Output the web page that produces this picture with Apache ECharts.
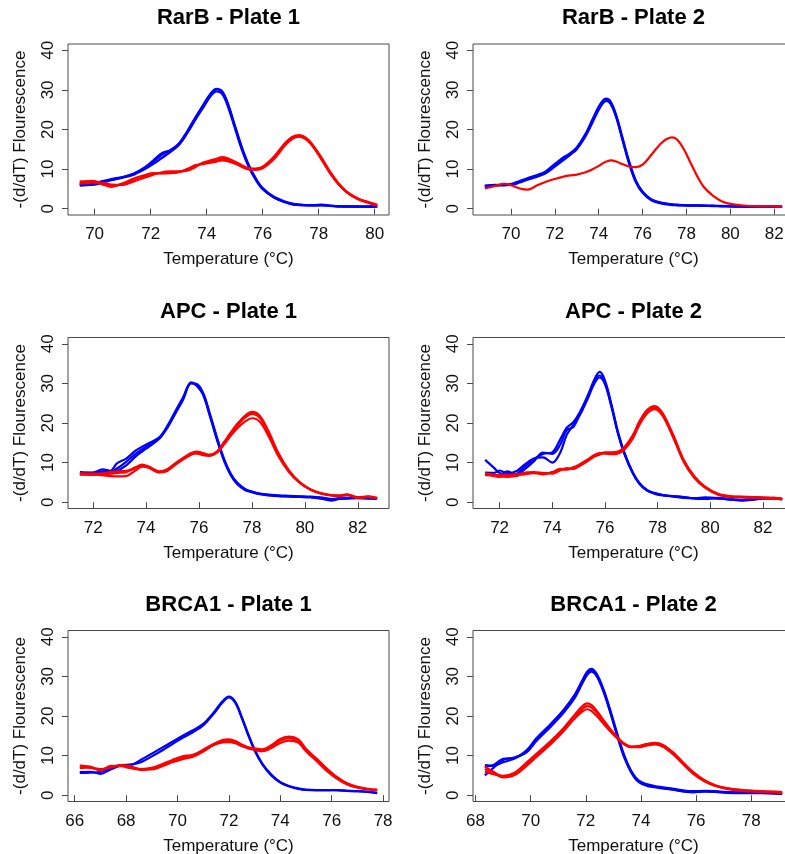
<!DOCTYPE html>
<html>
<head>
<meta charset="utf-8">
<script src="https://cdn.jsdelivr.net/npm/echarts@6/dist/echarts.min.js"></script>
<style>
  html, body { margin: 0; padding: 0; background: #ffffff; }
  #chart { width: 785px; height: 854px; }
</style>
</head>
<body>
<div id="chart"></div>
<script>
// Melt-curve derivative data, -(d/dT) fluorescence vs temperature, per assay and plate.
// Blue = one product, red = the other; each inner list is one replicate.

const yTicks = [0, 10, 20, 30, 40];
const rarbP1Ticks = [70, 72, 74, 76, 78, 80];
const rarbP2Ticks = [70, 72, 74, 76, 78, 80, 82];
const apcTicks = [72, 74, 76, 78, 80, 82];
const brcaP1Ticks = [66, 68, 70, 72, 74, 76, 78];
const brcaP2Ticks = [68, 70, 72, 74, 76, 78];

// RarB - Plate 1
const rarb1Temp = [69.47, 69.9, 70.25, 70.6, 71.0, 71.4, 71.8, 72.1, 72.4, 72.7, 73.0, 73.3, 73.6, 73.9, 74.15, 74.35, 74.55, 74.75, 75.0, 75.25, 75.5, 75.75, 76.0, 76.4, 76.8, 77.05, 77.3, 77.55, 77.8, 78.1, 78.4, 78.7, 79.0, 79.4, 79.8, 80.09];
const rarb1Blue = [
  [6.0, 6.2, 6.8, 7.3, 7.9, 8.8, 10.3, 11.8, 13.6, 14.7, 16.2, 19.2, 22.8, 26.2, 28.9, 30.1, 29.4, 26.4, 20.9, 15.4, 10.9, 7.5, 5.1, 2.9, 1.7, 1.2, 1.0, 0.9, 0.8, 0.9, 0.7, 0.6, 0.6, 0.5, 0.5, 0.6],
  [6.4, 6.0, 6.5, 7.2, 7.8, 8.6, 10.0, 11.3, 12.8, 14.3, 16.0, 19.0, 22.5, 25.8, 28.5, 29.6, 29.0, 26.0, 20.5, 15.0, 10.6, 7.3, 4.9, 2.8, 1.6, 1.1, 0.9, 0.8, 0.8, 0.8, 0.7, 0.6, 0.5, 0.5, 0.5, 0.6],
  [5.8, 6.1, 6.9, 7.5, 8.0, 8.9, 10.5, 12.2, 14.0, 14.8, 16.4, 19.5, 23.1, 26.5, 29.2, 30.3, 29.7, 26.8, 21.2, 15.7, 11.1, 7.7, 5.2, 3.0, 1.8, 1.3, 1.0, 0.9, 0.9, 1.0, 0.8, 0.6, 0.6, 0.6, 0.5, 0.6]
];
const rarb1Red = [
  [6.6, 7.0, 6.4, 5.7, 6.2, 7.4, 8.3, 8.8, 9.0, 9.1, 9.3, 9.8, 10.8, 11.5, 11.8, 12.2, 12.6, 12.3, 11.6, 10.8, 10.1, 10.0, 10.4, 12.8, 16.3, 17.8, 18.4, 17.7, 15.8, 12.6, 9.2, 6.3, 4.2, 2.5, 1.5, 0.9],
  [6.3, 6.6, 6.6, 6.1, 6.0, 6.9, 7.9, 8.6, 9.2, 9.4, 9.4, 9.6, 10.5, 11.7, 12.2, 12.6, 13.0, 12.7, 11.9, 11.0, 10.2, 10.1, 10.6, 13.1, 16.6, 18.1, 18.6, 17.9, 16.0, 12.9, 9.4, 6.5, 4.3, 2.6, 1.6, 1.0],
  [6.9, 6.8, 6.2, 5.5, 6.4, 7.6, 8.5, 9.0, 8.9, 9.0, 9.2, 10.0, 11.0, 11.3, 11.6, 11.9, 12.2, 12.0, 11.4, 10.6, 9.9, 9.8, 10.2, 12.5, 16.0, 17.6, 18.2, 17.5, 15.6, 12.4, 9.0, 6.2, 4.1, 2.4, 1.4, 0.8]
];

// RarB - Plate 2
const rarb2Temp = [68.81, 69.3, 69.7, 70.0, 70.4, 70.75, 71.2, 71.6, 72.0, 72.4, 72.7, 73.0, 73.4, 73.7, 74.0, 74.2, 74.35, 74.55, 74.8, 75.1, 75.4, 75.7, 76.0, 76.4, 76.8, 77.1, 77.35, 77.6, 77.9, 78.2, 78.5, 78.8, 79.2, 79.6, 80.0, 80.6, 81.2, 81.8, 82.36];
const rarb2Blue = [
  [5.7, 5.9, 6.0, 6.1, 6.8, 7.5, 8.3, 9.3, 11.0, 12.7, 13.8, 15.2, 18.6, 22.0, 25.4, 27.0, 27.5, 26.7, 23.3, 17.3, 11.4, 6.8, 4.2, 2.2, 1.5, 1.2, 1.0, 0.9, 0.85, 0.8, 0.8, 0.75, 0.7, 0.65, 0.6, 0.55, 0.5, 0.5, 0.5],
  [5.5, 5.8, 6.1, 6.0, 6.6, 7.3, 8.1, 9.0, 10.6, 12.3, 13.6, 15.0, 18.3, 21.6, 25.0, 26.7, 27.2, 26.4, 23.0, 17.0, 11.1, 6.6, 4.0, 2.1, 1.4, 1.1, 0.9, 0.85, 0.8, 0.75, 0.75, 0.7, 0.65, 0.6, 0.55, 0.5, 0.5, 0.45, 0.45],
  [5.8, 6.0, 5.9, 6.2, 7.0, 7.7, 8.5, 9.5, 11.3, 13.0, 14.0, 15.5, 18.9, 22.4, 25.8, 27.4, 27.8, 27.0, 23.6, 17.6, 11.7, 7.0, 4.3, 2.3, 1.6, 1.3, 1.1, 1.0, 0.9, 0.85, 0.85, 0.8, 0.75, 0.7, 0.65, 0.6, 0.55, 0.55, 0.5]
];
const rarb2Red = [
  [5.1, 5.8, 6.3, 5.9, 5.1, 4.8, 5.9, 6.8, 7.5, 8.1, 8.4, 8.6, 9.2, 9.9, 10.8, 11.5, 11.9, 12.2, 11.9, 11.2, 10.6, 10.5, 11.1, 13.6, 16.3, 17.6, 18.0, 17.3, 14.8, 11.4, 8.1, 5.4, 3.3, 1.9, 1.2, 0.8, 0.6, 0.55, 0.5]
];

// APC - Plate 1
const apc1Temp = [71.5, 72.0, 72.35, 72.65, 72.9, 73.25, 73.6, 73.85, 74.1, 74.5, 74.8, 75.1, 75.4, 75.7, 75.9, 76.15, 76.4, 76.7, 76.95, 77.2, 77.45, 77.75, 78.0, 78.3, 78.65, 79.0, 79.4, 79.8, 80.2, 80.6, 81.0, 81.3, 81.6, 82.0, 82.4, 82.73];
const apc1Blue = [
  [7.3, 7.4, 7.8, 7.7, 8.5, 10.2, 12.2, 13.3, 14.5, 16.2, 19.0, 22.6, 26.2, 30.3, 29.6, 27.4, 22.3, 15.6, 10.6, 7.0, 4.7, 3.2, 2.6, 2.1, 1.8, 1.6, 1.5, 1.4, 1.3, 1.0, 0.6, 0.9, 1.0, 1.1, 1.0, 0.9],
  [7.6, 7.5, 8.3, 7.9, 9.8, 11.0, 13.0, 14.0, 14.9, 16.4, 19.2, 22.9, 26.5, 30.1, 29.5, 27.2, 22.0, 15.3, 10.4, 6.8, 4.5, 3.0, 2.5, 2.0, 1.7, 1.5, 1.4, 1.3, 1.2, 0.9, 0.4, 0.8, 0.9, 1.0, 0.9, 0.8],
  [7.0, 7.2, 7.5, 7.6, 7.9, 9.3, 11.5, 12.8, 14.0, 16.0, 18.7, 22.3, 25.9, 30.0, 29.9, 27.7, 22.6, 15.9, 10.9, 7.2, 4.9, 3.3, 2.7, 2.2, 1.9, 1.7, 1.6, 1.5, 1.4, 1.2, 0.8, 1.0, 1.1, 1.2, 1.1, 1.0]
];
const apc1Red = [
  [7.0, 6.9, 7.0, 7.2, 7.4, 7.6, 8.6, 9.3, 8.8, 7.6, 8.1, 9.6, 10.9, 12.1, 12.4, 12.0, 11.8, 12.6, 14.6, 16.8, 18.7, 20.4, 21.2, 20.3, 16.4, 11.6, 7.6, 4.9, 3.2, 2.2, 1.7, 1.6, 1.9, 1.1, 1.4, 1.0],
  [7.3, 7.2, 7.3, 7.6, 7.8, 7.9, 8.8, 9.5, 9.0, 7.8, 8.3, 9.8, 11.2, 12.4, 12.8, 12.4, 12.0, 12.9, 15.2, 17.6, 19.8, 21.9, 22.8, 21.8, 17.6, 12.4, 8.0, 5.1, 3.3, 2.3, 1.8, 1.7, 2.0, 1.2, 1.5, 1.1],
  [7.2, 7.0, 6.8, 6.6, 6.5, 6.6, 8.0, 9.0, 8.7, 7.5, 7.9, 9.4, 10.8, 12.0, 12.3, 11.9, 11.7, 12.8, 15.0, 17.3, 19.4, 21.4, 22.3, 21.3, 17.2, 12.1, 7.8, 5.0, 3.2, 2.2, 1.7, 1.5, 1.8, 1.0, 1.3, 0.9]
];

// APC - Plate 2
const apc2Temp = [71.45, 71.8, 72.0, 72.3, 72.65, 72.9, 73.3, 73.65, 74.0, 74.3, 74.55, 74.8, 75.05, 75.35, 75.6, 75.8, 76.0, 76.25, 76.5, 76.75, 77.05, 77.3, 77.6, 77.9, 78.2, 78.6, 79.0, 79.4, 79.8, 80.3, 80.8, 81.2, 81.6, 82.0, 82.4, 82.73];
const apc2Blue = [
  [10.7, 8.6, 7.4, 6.9, 7.2, 8.6, 10.8, 12.2, 12.6, 15.8, 18.8, 20.2, 22.8, 27.0, 31.0, 32.9, 30.8, 24.6, 17.6, 12.3, 7.6, 4.9, 3.0, 2.3, 1.8, 1.4, 1.1, 1.0, 1.2, 1.0, 0.6, 0.4, 0.7, 1.0, 0.9, 0.8],
  [7.5, 7.4, 8.0, 7.3, 7.9, 9.2, 11.0, 11.3, 10.0, 12.5, 17.0, 19.5, 22.0, 26.2, 30.0, 31.5, 29.8, 24.0, 17.2, 12.0, 7.4, 4.7, 2.9, 2.1, 1.7, 1.5, 1.3, 0.9, 0.8, 1.1, 0.8, 0.5, 0.6, 0.9, 1.0, 0.7],
  [7.0, 6.8, 6.9, 7.8, 6.8, 8.0, 10.3, 12.5, 12.2, 14.5, 18.2, 19.0, 22.3, 26.5, 30.6, 32.0, 30.3, 24.3, 17.4, 12.1, 7.5, 4.8, 3.0, 2.2, 1.8, 1.5, 1.2, 1.0, 1.0, 0.9, 0.7, 0.6, 0.8, 1.0, 1.1, 0.8]
];
const apc2Red = [
  [7.0, 6.6, 6.4, 6.6, 6.8, 7.1, 7.3, 7.2, 7.5, 8.2, 8.4, 8.6, 9.4, 10.6, 11.7, 12.2, 12.4, 12.3, 12.5, 13.6, 16.3, 19.8, 22.8, 23.9, 22.0, 16.5, 10.3, 6.3, 3.8, 2.0, 1.4, 1.3, 1.2, 1.1, 1.0, 0.8],
  [7.3, 6.9, 6.7, 6.4, 6.6, 7.4, 7.6, 7.4, 7.2, 8.0, 8.6, 8.4, 9.2, 10.4, 11.5, 12.0, 12.6, 12.6, 12.8, 14.0, 16.8, 20.3, 23.3, 24.3, 22.4, 16.9, 10.6, 6.5, 3.9, 2.1, 1.5, 1.4, 1.3, 1.2, 1.1, 0.9],
  [6.8, 6.8, 6.9, 6.9, 7.0, 7.0, 7.5, 7.0, 7.6, 8.4, 8.2, 8.8, 9.6, 10.8, 11.9, 12.4, 12.3, 12.1, 12.3, 13.4, 16.0, 19.4, 22.4, 23.5, 21.7, 16.2, 10.1, 6.1, 3.7, 1.9, 1.3, 1.2, 1.1, 1.0, 0.9, 0.7]
];

// BRCA1 - Plate 1
const brca1Temp = [66.2, 66.6, 67.0, 67.4, 67.8, 68.2, 68.6, 69.0, 69.4, 69.8, 70.2, 70.6, 71.0, 71.4, 71.75, 72.0, 72.25, 72.5, 72.75, 73.0, 73.3, 73.65, 74.0, 74.35, 74.7, 75.0, 75.4, 75.8, 76.2, 76.6, 77.0, 77.4, 77.77];
const brca1Blue = [
  [5.8, 5.9, 5.4, 6.5, 7.5, 7.7, 8.4, 9.8, 11.3, 12.9, 14.5, 15.9, 17.6, 20.5, 23.4, 24.7, 23.3, 19.5, 15.2, 11.3, 7.8, 5.0, 3.2, 2.2, 1.6, 1.3, 1.2, 1.2, 1.3, 1.1, 1.0, 0.9, 0.6],
  [5.6, 5.7, 5.9, 6.8, 7.6, 7.7, 9.0, 10.5, 12.0, 13.5, 15.0, 16.4, 18.0, 20.8, 23.7, 24.9, 23.6, 19.8, 15.5, 11.6, 8.0, 5.2, 3.3, 2.3, 1.7, 1.4, 1.3, 1.3, 1.2, 1.1, 1.0, 0.8, 0.5]
];
const brca1Red = [
  [7.2, 6.9, 6.4, 7.2, 7.5, 7.0, 6.4, 6.7, 7.5, 8.5, 9.4, 10.0, 11.5, 12.9, 13.7, 13.8, 13.4, 12.6, 12.0, 11.6, 11.3, 12.3, 13.8, 14.4, 13.6, 11.3, 9.0, 6.5, 4.4, 2.9, 2.0, 1.5, 1.3],
  [6.8, 7.0, 6.6, 7.0, 7.6, 7.2, 6.6, 6.9, 7.8, 8.9, 9.8, 10.2, 11.2, 12.6, 13.3, 13.4, 13.1, 12.4, 11.8, 11.4, 11.1, 11.9, 13.2, 13.8, 13.3, 11.1, 8.7, 6.2, 4.2, 2.7, 1.9, 1.5, 1.2],
  [7.5, 7.2, 6.2, 7.4, 7.3, 6.8, 6.5, 6.5, 7.3, 8.3, 9.1, 9.7, 11.0, 12.8, 13.9, 14.1, 13.7, 12.8, 12.1, 11.8, 11.6, 12.6, 14.2, 14.8, 14.1, 11.7, 9.3, 6.8, 4.6, 3.0, 2.1, 1.6, 1.4]
];

// BRCA1 - Plate 2
const brca2Temp = [68.34, 68.65, 69.0, 69.4, 69.85, 70.2, 70.7, 71.2, 71.6, 71.85, 72.05, 72.2, 72.4, 72.65, 72.9, 73.15, 73.4, 73.65, 73.9, 74.2, 74.5, 74.8, 75.2, 75.55, 75.9, 76.3, 76.7, 77.1, 77.7, 78.4, 79.12];
const brca2Blue = [
  [7.6, 7.4, 8.3, 9.2, 11.0, 13.9, 17.4, 21.2, 25.0, 28.3, 30.8, 31.5, 30.2, 26.3, 20.9, 15.0, 9.7, 5.9, 3.6, 2.6, 2.1, 1.8, 1.4, 1.0, 0.8, 1.0, 0.9, 0.7, 0.6, 0.6, 0.4],
  [5.0, 6.9, 8.9, 9.5, 10.8, 13.6, 17.1, 20.9, 24.6, 27.9, 30.4, 31.2, 30.0, 26.0, 20.6, 14.7, 9.4, 5.7, 3.4, 2.4, 2.0, 1.7, 1.3, 0.9, 0.7, 0.9, 0.8, 0.6, 0.5, 0.5, 0.3],
  [7.2, 7.6, 9.2, 9.4, 11.3, 14.3, 17.8, 21.6, 25.4, 28.7, 31.2, 31.9, 30.6, 26.6, 21.2, 15.3, 10.0, 6.1, 3.8, 2.8, 2.3, 2.0, 1.6, 1.2, 1.0, 1.1, 1.0, 0.8, 0.7, 0.7, 0.6]
];
const brca2Red = [
  [7.2, 5.9, 4.7, 5.4, 7.8, 10.0, 13.1, 16.5, 19.4, 21.0, 21.7, 21.3, 20.0, 18.0, 16.0, 14.3, 12.8, 12.1, 12.1, 12.5, 12.8, 12.2, 10.1, 7.7, 5.4, 3.5, 2.3, 1.6, 1.1, 0.8, 0.6],
  [6.6, 5.6, 4.5, 5.0, 7.4, 9.6, 12.7, 16.2, 19.6, 21.6, 22.5, 22.2, 20.8, 18.5, 16.3, 14.4, 12.9, 12.2, 12.3, 12.8, 13.1, 12.5, 10.4, 7.9, 5.6, 3.7, 2.4, 1.7, 1.2, 0.9, 0.7],
  [6.0, 5.3, 4.9, 5.6, 8.2, 10.4, 13.5, 17.0, 20.3, 22.3, 23.2, 22.8, 21.3, 18.9, 16.6, 14.6, 13.0, 12.3, 12.4, 12.9, 13.2, 12.7, 10.6, 8.1, 5.8, 3.8, 2.5, 1.8, 1.3, 1.0, 0.8]
];

const panels = [
  { title: 'RarB - Plate 1', temp: rarb1Temp, blue: rarb1Blue, red: rarb1Red, xMin: 69.05, xMax: 80.51, ticks: rarbP1Ticks },
  { title: 'RarB - Plate 2', temp: rarb2Temp, blue: rarb2Blue, red: rarb2Red, xMin: 68.27, xMax: 82.9, ticks: rarbP2Ticks },
  { title: 'APC - Plate 1', temp: apc1Temp, blue: apc1Blue, red: apc1Red, xMin: 71.05, xMax: 83.18, ticks: apcTicks },
  { title: 'APC - Plate 2', temp: apc2Temp, blue: apc2Blue, red: apc2Red, xMin: 70.99, xMax: 83.18, ticks: apcTicks },
  { title: 'BRCA1 - Plate 1', temp: brca1Temp, blue: brca1Blue, red: brca1Red, xMin: 65.74, xMax: 78.23, ticks: brcaP1Ticks },
  { title: 'BRCA1 - Plate 2', temp: brca2Temp, blue: brca2Blue, red: brca2Red, xMin: 67.91, xMax: 79.55, ticks: brcaP2Ticks }
];

// Plot-box placement (pixels) for the 3 x 2 layout
const BOX_W = 321;
const BOX_H = 171;
const colLeft = [68, 473];
const rowTop = [44, 337.5, 630.5];
const FONT = '"Liberation Sans", Arial, Helvetica, sans-serif';
const BLUE = '#0000ff';
const RED = '#ff0000';
const INK = '#111111';
const FRAME = '#4a4a4a';

const grids = [], xAxes = [], yAxes = [], titles = [], series = [];

panels.forEach((p, i) => {
  const left = colLeft[i % 2];
  const top = rowTop[Math.floor(i / 2)];

  grids.push({
    left: left, top: top, width: BOX_W, height: BOX_H,
    show: true, borderColor: FRAME, borderWidth: 1,
    backgroundColor: 'transparent', containLabel: false, outerBoundsMode: 'none'
  });

  titles.push({
    text: p.title, left: left + BOX_W / 2, top: top - 37,
    textAlign: 'center', padding: 0,
    textStyle: { fontFamily: FONT, fontSize: 22, fontWeight: 'bold', color: '#000' }
  });

  xAxes.push({
    type: 'value', gridIndex: i, min: p.xMin, max: p.xMax,
    axisLine: { show: false },
    splitLine: { show: false },
    axisTick: { show: true, inside: false, length: 6, customValues: p.ticks, lineStyle: { color: FRAME, width: 1 } },
    axisLabel: { customValues: p.ticks, fontFamily: FONT, fontSize: 17, color: INK, margin: 11, hideOverlap: false },
    name: 'Temperature (°C)', nameLocation: 'middle', nameGap: 36, nameMoveOverlap: false,
    nameTextStyle: { fontFamily: FONT, fontSize: 17, color: INK, verticalAlign: 'top' }
  });

  yAxes.push({
    type: 'value', gridIndex: i, min: -1.6, max: 41.6,
    axisLine: { show: false },
    splitLine: { show: false },
    axisTick: { show: true, inside: false, length: 6, customValues: yTicks, lineStyle: { color: FRAME, width: 1 } },
    axisLabel: { customValues: yTicks, rotate: 90, align: 'center', verticalAlign: 'bottom', fontFamily: FONT, fontSize: 17, color: INK, margin: 11, hideOverlap: false },
    name: '-(d/dT) Flourescence', nameLocation: 'middle', nameRotate: 90, nameGap: 39, nameMoveOverlap: false,
    nameTextStyle: { fontFamily: FONT, fontSize: 17, color: INK, align: 'center', verticalAlign: 'bottom' }
  });

  const addCurves = (reps, color, z) => {
    reps.forEach(vals => {
      series.push({
        type: 'line', xAxisIndex: i, yAxisIndex: i, z: z,
        data: p.temp.map((t, k) => [t, vals[k]]),
        showSymbol: false, symbol: 'none', smooth: 0.35, silent: true,
        lineStyle: { color: color, width: 2.2 },
        itemStyle: { color: color },
        emphasis: { disabled: true }
      });
    });
  };
  addCurves(p.blue, BLUE, 2);
  addCurves(p.red, RED, 3);
});

const chart = echarts.init(document.getElementById('chart'), null, { renderer: 'canvas' });
chart.setOption({
  animation: false,
  backgroundColor: '#ffffff',
  title: titles,
  grid: grids,
  xAxis: xAxes,
  yAxis: yAxes,
  tooltip: { show: false },
  series: series
});
</script>
</body>
</html>
